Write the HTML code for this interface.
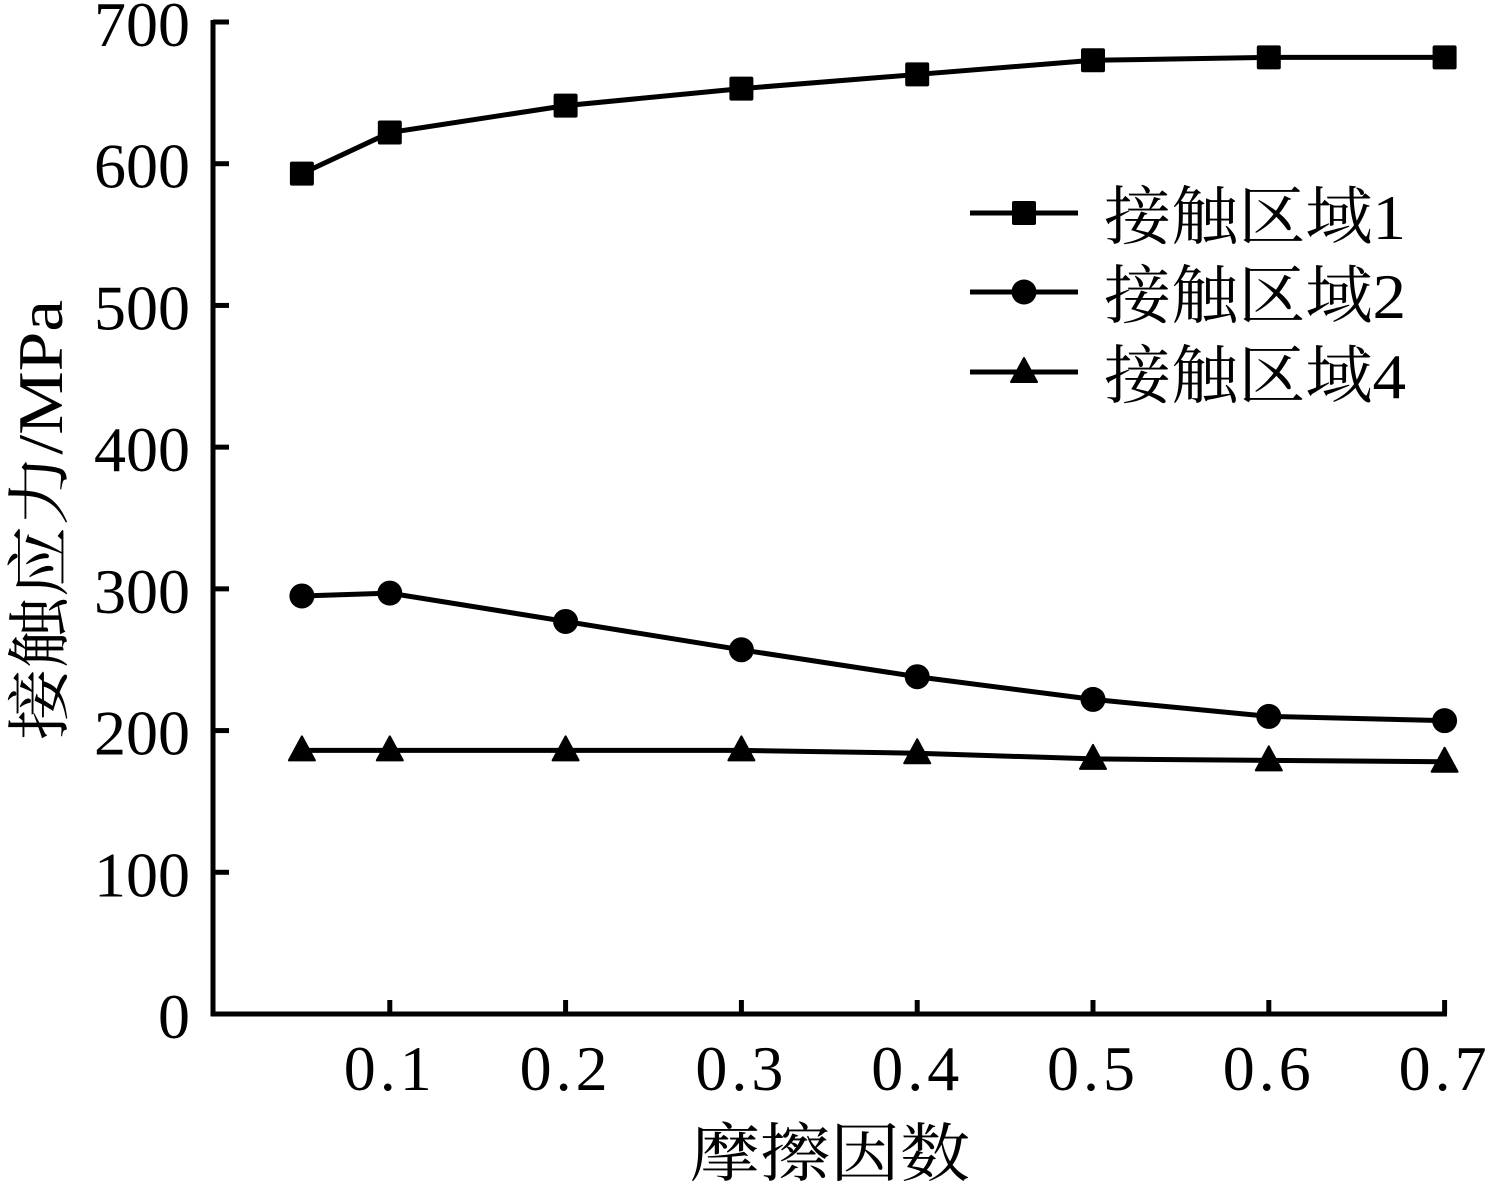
<!DOCTYPE html>
<html><head><meta charset="utf-8"><style>
html,body{margin:0;padding:0;background:#fff;}
svg text{font-family:"Liberation Serif","Noto Serif CJK SC",serif;fill:#000;}
</style></head><body>
<svg id="chart" width="1489" height="1186" viewBox="0 0 1489 1186" xmlns="http://www.w3.org/2000/svg">
<g id="axes"></g>
<g id="series"></g>
<g id="legend"></g>
<text x="830" y="1176" font-size="64" text-anchor="middle" textLength="280" lengthAdjust="spacingAndGlyphs">摩擦因数</text>
<text transform="translate(62,520) rotate(-90)" font-size="64" text-anchor="middle" textLength="440" lengthAdjust="spacingAndGlyphs">接触应力/MPa</text>
</svg>
<script>
const xValues = [0.05, 0.1, 0.2, 0.3, 0.4, 0.5, 0.6, 0.7];
const xTickLabels = ["0.1", "0.2", "0.3", "0.4", "0.5", "0.6", "0.7"];
const yTickLabels = ["0", "100", "200", "300", "400", "500", "600", "700"];
const region1 = [593, 622, 641, 653, 663, 673, 675, 675];
const region2 = [295, 297, 277, 257, 238, 222, 210, 207];
const region4 = [186, 186, 186, 186, 184, 180, 179, 178];
const seriesNames = ["接触区域1", "接触区域2", "接触区域4"];

const NS = "http://www.w3.org/2000/svg";
function X(v){ return 214 + (v/0.1)*175.8; }
function Y(v){ return 1014 - v*(992/700); }
function mk(tag, attrs, parent){
  const e = document.createElementNS(NS, tag);
  for (const k in attrs) e.setAttribute(k, attrs[k]);
  parent.appendChild(e);
  return e;
}
const axes = document.getElementById('axes');
const ax = mk('path', {d:`M213 20 L213 1014 L1447 1014`, fill:'none', stroke:'#000', 'stroke-width':5}, axes);


yTickLabels.forEach(function(lab){
  const v = parseFloat(lab);
  const t = mk('line', {x1:213, x2:229, y1:Y(v), y2:Y(v), stroke:'#000', 'stroke-width':5}, axes);
  
  
  const tx = mk('text', {x:190, y:Y(v)+24, 'font-size':64, 'text-anchor':'end'}, axes);
  
  
  tx.textContent = lab;
});
xTickLabels.forEach(function(lab){
  const v = parseFloat(lab);
  const t = mk('line', {x1:X(v), x2:X(v), y1:1014, y2:1000, stroke:'#000', 'stroke-width':5}, axes);
  
  
  const tx = mk('text', {x:X(v), y:1090, 'font-size':64, 'text-anchor':'middle', 'letter-spacing':'4'}, axes);
  
  
  tx.textContent = lab;
});
function marker(kind, cx, cy, parent){
  let m;
  if (kind === 0) m = mk('rect', {x:cx-12, y:cy-12, width:24, height:24, rx:2, fill:'#000'}, parent);
  else if (kind === 1) m = mk('circle', {cx:cx, cy:cy, r:12.5, fill:'#000'}, parent);
  else m = mk('path', {d:`M${cx} ${cy-14} L${cx+13} ${cy+10} L${cx-13} ${cy+10} Z`, fill:'#000', 'stroke-linejoin':'round', stroke:'#000', 'stroke-width':2}, parent);
  return m;
}
const sg = document.getElementById('series');
[region1, region2, region4].forEach(function(arr, si){
  const g = mk('g', {}, sg);
  
  
  const d = arr.map((v,i)=>(i?'L':'M')+X(xValues[i])+' '+Y(v)).join(' ');
  const p = mk('path', {d:d, fill:'none', stroke:'#000', 'stroke-width':5}, g);
  
  
  arr.forEach(function(v,i){
    const m = marker(si, X(xValues[i]), Y(v), g);
    
    
  });
});
const lg = document.getElementById('legend');
const ly = [213, 292, 372];
seriesNames.forEach(function(name, i){
  const g = mk('g', {}, lg);
  
  
  const l = mk('line', {x1:970, x2:1078, y1:ly[i], y2:ly[i], stroke:'#000', 'stroke-width':5}, g);
  
  
  const m = marker(i, 1024, ly[i], g);
  
  
  const t = mk('text', {x:1104, y:ly[i]+26, 'font-size':64, textLength:302, lengthAdjust:'spacingAndGlyphs'}, g);
  
  
  t.textContent = name;
});
</script>
</body></html>
